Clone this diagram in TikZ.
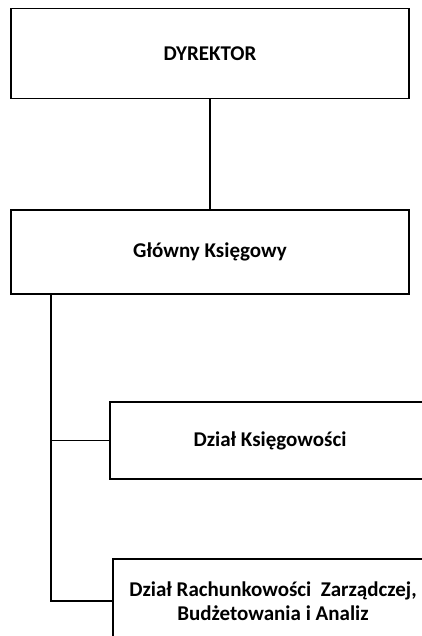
\documentclass[tikz,border=0pt]{standalone}
\usepackage{fontspec}
\setmainfont{Carlito}
\usetikzlibrary{positioning}

\begin{document}
\begin{tikzpicture}[x=1pt,y=-1pt,
    unit/.style={rectangle,draw=black,line width=1.8pt,fill=white,inner sep=0pt,
        align=center,font=\bfseries\fontsize{21}{24}\selectfont},
    link/.style={draw=black,line width=1.8pt},
    every node/.style={node distance=110pt}
    ]
    \clip (0,0) rectangle (422,636);
    % top level
    \node[unit,minimum width=398pt,minimum height=90pt] (dyr) at (210,53.5) {DYREKTOR};
    \node[unit,minimum width=398pt,minimum height=84pt,below=of dyr.south,anchor=north] (gk) {G\l{}ówny Księgowy};
    % departments
    \node[unit,minimum width=320pt,minimum height=77pt] (dk) at (270,440.5) {Dział Księgowości};
    \node[unit,minimum width=320pt,minimum height=84pt] (rb) at (273,601)
        {Dział Rachunkowości\ \ Zarządczej,\\Budżetowania i Analiz};
    \coordinate (trunk) at (51,0);
    \path[link] (dyr.south) -- (gk.north);
    \path[link] (trunk |- gk.south) -- (trunk |- rb.west) -- (rb.west);
    \path[link] (trunk |- dk.west) -- (dk.west);
\end{tikzpicture}
\end{document}
